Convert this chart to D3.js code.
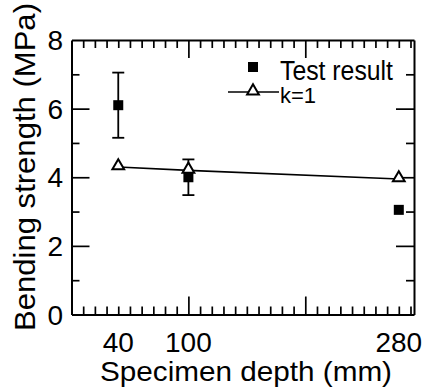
<!DOCTYPE html>
<html><head><meta charset="utf-8">
<script src="https://cdn.jsdelivr.net/npm/d3@7"></script>
<style>body{margin:0;background:#fff}svg{display:block}text{font-family:"Liberation Sans",Arial,sans-serif;fill:#000}</style>
</head><body><svg id="c" width="425" height="390"></svg>
<script>
const depths = [40, 100, 280];
const testResult = [6.1, 4.0, 3.05];
const testErr = [0.95, 0.52, 0];
const k1 = [4.3, 4.2, 3.95];
const xTickLabels = [40, 100, 280];
const yTickLabels = [0, 2, 4, 6, 8];
const xTitle = "Specimen depth (mm)";
const yTitle = "Bending strength (MPa)";
const legendLabels = ["Test result", "k=1"];

const svg = d3.select("#c");
const L = 71.5, R = 414, T = 40, B = 314.5;
const x = d3.scaleLinear().domain([0, 293]).range([L, R]);
const y = d3.scaleLinear().domain([0, 8]).range([B, T]);

const xTicks = d3.range(10, 293, 10);
const yTicks = [1, 2, 3, 4, 5, 6, 7];
const xLen = v => (v % 100 === 0 ? 18 : 8);
const yLen = v => (v % 2 === 0 ? 18 : 8);

function frameAxis(axis, tr, len, dir) {
  const g = svg.append("g").attr("transform", tr)
    .call(axis.tickSizeOuter(0).tickFormat(() => ""));
  g.select(".domain").attr("stroke", "#000").attr("stroke-width", 2);
  g.selectAll(".tick line").attr("stroke", "#000").attr("stroke-width", 1.7)
    .each(function(d) {
      const s = d3.select(this);
      if (dir === "b") s.attr("y2", -len(d));
      if (dir === "t") s.attr("y2", len(d));
      if (dir === "l") s.attr("x2", len(d));
      if (dir === "r") s.attr("x2", -len(d));
    });
}
frameAxis(d3.axisBottom(x).tickValues(xTicks), `translate(0,${B})`, xLen, "b");
frameAxis(d3.axisTop(x).tickValues(xTicks), `translate(0,${T})`, xLen, "t");
frameAxis(d3.axisLeft(y).tickValues(yTicks), `translate(${L},0)`, yLen, "l");
frameAxis(d3.axisRight(y).tickValues(yTicks), `translate(${R},0)`, yLen, "r");

// tick labels
svg.selectAll("text.yl").data(yTickLabels).join("text").attr("class", "yl")
  .attr("x", 63).attr("y", d => y(d)).attr("dy", "0.36em").attr("text-anchor", "end")
  .attr("font-size", 28).text(d => d);
svg.selectAll("text.xl").data(xTickLabels).join("text").attr("class", "xl")
  .attr("x", d => x(d)).attr("y", 352).attr("text-anchor", "middle")
  .attr("font-size", 28).text(d => d);

// titles
svg.append("text").attr("x", (100 + 392) / 2).attr("y", 381).attr("text-anchor", "middle")
  .attr("font-size", 28).attr("textLength", 292).attr("lengthAdjust", "spacingAndGlyphs").text(xTitle);
svg.append("text").attr("transform", "translate(35," + ((3 + 331) / 2) + ") rotate(-90)")
  .attr("text-anchor", "middle").attr("font-size", 30)
  .attr("textLength", 328).attr("lengthAdjust", "spacingAndGlyphs").text(yTitle);

// k=1 line
const line = d3.line().x((d, i) => x(depths[i])).y(d => y(d));
svg.append("path").datum(k1).attr("d", line).attr("fill", "none").attr("stroke", "#000").attr("stroke-width", 1.6);

// error bars
depths.forEach((d, i) => {
  if (testErr[i] > 0) {
    const cx = x(d), t = y(testResult[i] + testErr[i]), b = y(testResult[i] - testErr[i]);
    svg.append("line").attr("x1", cx).attr("x2", cx).attr("y1", t).attr("y2", b).attr("stroke", "#000").attr("stroke-width", 1.8);
    [t, b].forEach(yy => svg.append("line").attr("x1", cx - 6).attr("x2", cx + 6).attr("y1", yy).attr("y2", yy).attr("stroke", "#000").attr("stroke-width", 1.8));
  }
});

const tri = d3.symbol().type(d3.symbolTriangle).size(60);
svg.selectAll("path.tri").data(k1).join("path").attr("class", "tri")
  .attr("transform", (d, i) => `translate(${x(depths[i])},${y(d) - 1})`)
  .attr("d", tri).attr("fill", "#fff").attr("stroke", "#000").attr("stroke-width", 2);
svg.selectAll("rect.sq").data(testResult).join("rect").attr("class", "sq")
  .attr("x", (d, i) => x(depths[i]) - 5).attr("y", d => y(d) - 5)
  .attr("width", 10).attr("height", 10).attr("fill", "#000");

// legend
svg.append("rect").attr("x", 248).attr("y", 62).attr("width", 10).attr("height", 10).attr("fill", "#000");
svg.append("text").attr("x", 280).attr("y", 80).attr("font-size", 27)
  .attr("textLength", 113).attr("lengthAdjust", "spacingAndGlyphs").text(legendLabels[0]);
svg.append("line").attr("x1", 228).attr("x2", 279).attr("y1", 92).attr("y2", 92).attr("stroke", "#000").attr("stroke-width", 1.6);
svg.append("path").attr("transform", "translate(253,91)").attr("d", tri).attr("fill", "#fff").attr("stroke", "#000").attr("stroke-width", 2);
svg.append("text").attr("x", 280).attr("y", 102.5).attr("font-size", 22).text(legendLabels[1]);
</script></body></html>
